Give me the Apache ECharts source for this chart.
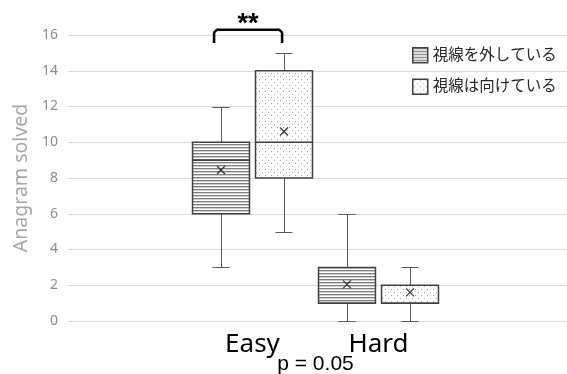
<!DOCTYPE html>
<html><head><meta charset="utf-8">
<script src="https://cdn.jsdelivr.net/npm/echarts@6/dist/echarts.min.js"></script>
<style>html,body{margin:0;padding:0;background:#fff}#c{width:567px;height:374px}</style>
</head><body><div id="c"></div>
<script>
// ---- data ----
const categories = ['Easy', 'Hard'];
const categoryPos = [1, 2];
const seriesNames = ['視線を外している', '視線は向けている'];
const awayMin = [3, 0];
const awayQ1 = [6, 1];
const awayMedian = [9, 1];
const awayQ3 = [10, 3];
const awayMax = [12, 6];
const awayMean = [8.45, 2.05];
const facingMin = [5, 0];
const facingQ1 = [8, 1];
const facingMedian = [10, 1];
const facingQ3 = [14, 2];
const facingMax = [15, 3];
const facingMean = [10.6, 1.6];
const yMin = 0, yMax = 16, yStep = 2;
const yAxisTitle = 'Anagram solved';
const pNote = 'p = 0.05';
const sigMark = '**';

const FONT = "'Noto Sans', 'Noto Sans CJK JP', sans-serif";

function stripePattern() {
  const c = document.createElement('canvas'); c.width = 4; c.height = 3;
  const g = c.getContext('2d');
  g.fillStyle = '#ffffff'; g.fillRect(0, 0, 4, 3);
  g.fillStyle = '#7f7f7f'; g.fillRect(0, 0, 4, 1);
  g.fillStyle = '#cfcfcf'; g.fillRect(0, 1, 4, 1);
  return { image: c, repeat: 'repeat' };
}
function dotPattern() {
  const c = document.createElement('canvas'); c.width = 6; c.height = 6;
  const g = c.getContext('2d');
  g.fillStyle = '#ffffff'; g.fillRect(0, 0, 6, 6);
  g.fillStyle = '#9a9a9a'; g.fillRect(1, 1, 1, 1);
  g.fillStyle = '#b0b0b0'; g.fillRect(4, 4, 1, 1);
  return { image: c, repeat: 'repeat' };
}
const fills = [stripePattern(), dotPattern()];

function build(mins, q1s, meds, q3s, maxs, means) {
  return categoryPos.map((p, i) => [p, mins[i], q1s[i], meds[i], q3s[i], maxs[i], means[i]]);
}
const seriesData = [
  build(awayMin, awayQ1, awayMedian, awayQ3, awayMax, awayMean),
  build(facingMin, facingQ1, facingMedian, facingQ3, facingMax, facingMean)
];
const offsets = [-0.25, 0.25];
const halfBox = 0.226, halfCap = 0.0675;
const c5 = v => Math.round(v) + 0.5;

function makeRender(offset, fill) {
  return function (params, api) {
    const x = api.value(0) + offset;
    const mn = api.value(1), q1 = api.value(2), md = api.value(3), q3 = api.value(4), mx = api.value(5), mean = api.value(6);
    const pTL = api.coord([x - halfBox, q3]);
    const pBR = api.coord([x + halfBox, q1]);
    const pMax = api.coord([x, mx]), pMin = api.coord([x, mn]);
    const pMed = api.coord([x, md]);
    const capL = api.coord([x - halfCap, mx])[0], capR = api.coord([x + halfCap, mx])[0];
    const pMean = api.coord([x, mean]);
    const cx = c5(pMax[0]);
    const ws = { stroke: '#595959', lineWidth: 1 };
    const m = 4;
    return {
      type: 'group',
      children: [
        { type: 'line', shape: { x1: cx, y1: c5(pMax[1]), x2: cx, y2: pTL[1] }, style: ws },
        { type: 'line', shape: { x1: cx, y1: pBR[1], x2: cx, y2: c5(pMin[1]) }, style: ws },
        { type: 'line', shape: { x1: capL, y1: c5(pMax[1]), x2: capR, y2: c5(pMax[1]) }, style: ws },
        { type: 'line', shape: { x1: capL, y1: c5(pMin[1]), x2: capR, y2: c5(pMin[1]) }, style: ws },
        { type: 'rect', shape: { x: pTL[0], y: pTL[1], width: pBR[0] - pTL[0], height: pBR[1] - pTL[1] },
          style: { fill: fill, stroke: '#404040', lineWidth: 1.5 } },
        { type: 'line', shape: { x1: pTL[0], y1: pMed[1], x2: pBR[0], y2: pMed[1] },
          style: { stroke: '#404040', lineWidth: 1.5 } },
        { type: 'line', shape: { x1: pMean[0] - m, y1: pMean[1] - m, x2: pMean[0] + m, y2: pMean[1] + m },
          style: { stroke: '#333333', lineWidth: 1.2 } },
        { type: 'line', shape: { x1: pMean[0] - m, y1: pMean[1] + m, x2: pMean[0] + m, y2: pMean[1] - m },
          style: { stroke: '#333333', lineWidth: 1.2 } }
      ]
    };
  };
}

const chart = echarts.init(document.getElementById('c'), null, { renderer: 'canvas' });
const option = {
  animation: false,
  backgroundColor: '#ffffff',
  textStyle: { fontFamily: FONT },
  grid: { left: 68, right: 0, top: 35, bottom: 53, containLabel: false, outerBoundsMode: 'none' },
  legend: {
    orient: 'vertical', left: 407, top: 42, itemWidth: 15, itemHeight: 15, itemGap: 15,
    icon: 'rect', selectedMode: false, data: seriesNames,
    textStyle: { fontSize: 15.5, color: '#262626', fontFamily: FONT },
    itemStyle: { borderColor: '#404040', borderWidth: 1.5 }
  },
  xAxis: {
    type: 'value', min: -0.4643, max: 3.496,
    axisLine: { show: false }, axisTick: { show: false }, splitLine: { show: false },
    axisLabel: {
      customValues: categoryPos,
      formatter: v => { const i = categoryPos.indexOf(v); return i >= 0 ? categories[i] : ''; },
      fontSize: 26, color: '#000000', margin: 24, verticalAlign: 'middle', fontFamily: FONT
    }
  },
  yAxis: {
    type: 'value', min: yMin, max: yMax, interval: yStep,
    name: yAxisTitle, nameLocation: 'middle', nameGap: 32,
    nameTextStyle: { fontSize: 19.5, color: '#a6a6a6', fontFamily: FONT },
    axisLine: { show: false }, axisTick: { show: false },
    splitLine: { lineStyle: { color: '#d9d9d9', width: 1 } },
    axisLabel: { fontSize: 14, color: '#8c8c8c', margin: 10, fontFamily: FONT }
  },
  series: seriesNames.map((name, si) => ({
    name: name, type: 'custom',
    itemStyle: { color: fills[si], borderColor: '#404040' },
    encode: { x: 0, y: [1, 2, 3, 4, 5, 6] },
    renderItem: makeRender(offsets[si], fills[si]),
    data: seriesData[si]
  }))
};
chart.setOption(option);

// annotations (bracket, significance, p-value) placed via the axes
const bL = chart.convertToPixel({ gridIndex: 0 }, [categoryPos[0] + offsets[0] - 0.055, yMax + 0.3]);
const bR = chart.convertToPixel({ gridIndex: 0 }, [categoryPos[0] + offsets[1] - 0.015, yMax - 0.45]);
const midX = (bL[0] + bR[0]) / 2;
const pX = chart.convertToPixel({ gridIndex: 0 }, [(categoryPos[0] + categoryPos[1]) / 2, 0])[0];
const r = 3;
chart.setOption({
  graphic: [
    { type: 'polyline', z: 10,
      shape: { points: [[bL[0], bR[1]], [bL[0], bL[1] + r], [bL[0] + r, bL[1]], [bR[0] - r, bL[1]], [bR[0], bL[1] + r], [bR[0], bR[1]]] },
      style: { stroke: '#000000', lineWidth: 2.5, fill: null, lineJoin: 'round' } },
    { type: 'text', z: 10, x: midX, y: 25,
      style: { text: sigMark, fontSize: 27, fontWeight: 'bold', fill: '#000000', align: 'center', verticalAlign: 'middle', font: "bold 27px " + FONT } },
    { type: 'text', z: 10, x: pX, y: 364,
      style: { text: pNote, fontSize: 21, fill: '#000000', align: 'center', verticalAlign: 'middle', font: "21px " + FONT } }
  ]
});
</script>
</body></html>
